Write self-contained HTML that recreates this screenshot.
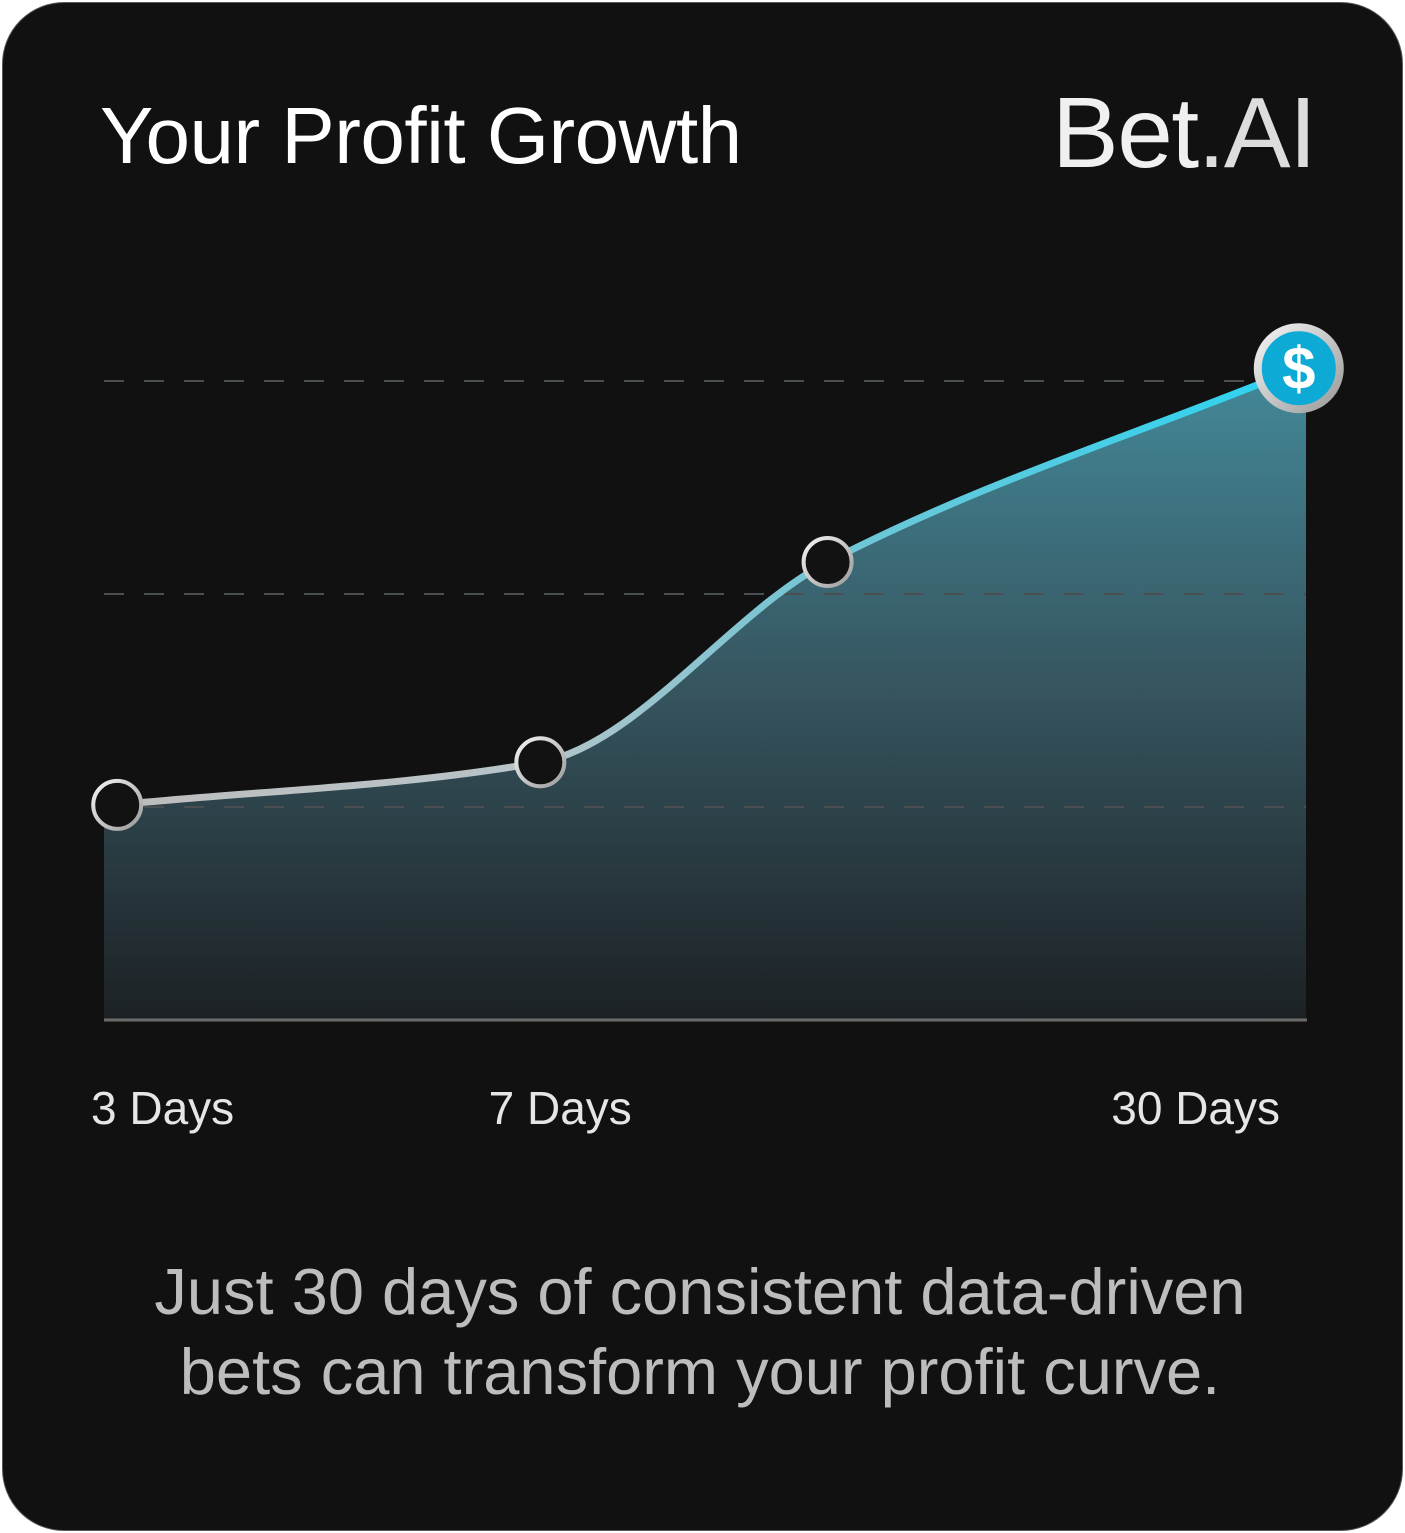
<!DOCTYPE html>
<html><head><meta charset="utf-8"><style>
html,body{margin:0;padding:0;background:#fff;}
body{width:1405px;height:1533px;position:relative;overflow:hidden;font-family:"Liberation Sans",sans-serif;}
#card{position:absolute;left:2px;top:2px;width:1399px;height:1527px;border:1px solid #5a5a5a;border-radius:62px;background:#111111;}
.t{position:absolute;white-space:nowrap;}
</style></head><body>
<div id="card"></div>
<div class="t" style="left:100px;top:90px;font-size:80px;color:#fff;letter-spacing:-0.5px;">Your Profit Growth</div>
<div class="t" style="left:1052px;top:76px;font-size:100px;letter-spacing:-1.5px;color:#f0f0f0;">Bet<span style="color:#ddd">.AI</span></div>
<svg id="chart" width="1405" height="1533" style="position:absolute;left:0;top:0">
<defs>
<linearGradient id="fillG" x1="0" y1="380" x2="0" y2="1020" gradientUnits="userSpaceOnUse">
<stop offset="0" stop-color="#438797"/><stop offset="0.5" stop-color="#35535d"/><stop offset="1" stop-color="#1c2124"/></linearGradient>
<linearGradient id="lineG" x1="104" y1="0" x2="1306" y2="0" gradientUnits="userSpaceOnUse">
<stop offset="0" stop-color="#bdbdbd"/><stop offset="0.35" stop-color="#b8c4c8"/><stop offset="0.55" stop-color="#7cc4d2"/><stop offset="1" stop-color="#29d4f2"/></linearGradient>
<linearGradient id="ringG" x1="0" y1="0" x2="1" y2="1"><stop offset="0" stop-color="#f4f4f4"/><stop offset="1" stop-color="#9a9a9a"/></linearGradient>
</defs>
<path id="area" fill="url(#fillG)"/>
<g id="grid2"></g>
<line x1="104" x2="1307" y1="1020" y2="1020" stroke="#6a6a6a" stroke-width="3"/>
<path id="line" fill="none" stroke="url(#lineG)" stroke-width="7" stroke-linecap="round"/>
<g id="pts"></g><g id="labels"></g>
</svg>
<div class="t" style="left:0;width:1400px;top:1252px;text-align:center;font-size:65px;line-height:80px;color:#bdbdbd;">Just 30 days of consistent data-driven<br>bets can transform your profit curve.</div>
<script>
const positions = [1.1, 36.3, 60.2, 99.4];
const profits = [101, 121, 215, 306];
const gridValues = [100, 200, 300];
const tickLabels = ["3 Days", "7 Days", "30 Days"];
const tickPos = [-1.08, 32.0, 83.8];
const X = v => 104 + v / 100 * 1202;
const Y = v => 1020 - v * 2.13;
const NS = "http://www.w3.org/2000/svg";
const g2 = document.getElementById('grid2');
gridValues.forEach(v => {
  const l = document.createElementNS(NS, 'line');
  
  
  l.setAttribute('x1', 104); l.setAttribute('x2', 1306);
  l.setAttribute('y1', Y(v)); l.setAttribute('y2', Y(v));
  l.setAttribute('stroke', '#4a4f52'); l.setAttribute('stroke-width', 2);
  l.setAttribute('stroke-dasharray', '20 20');
  g2.appendChild(l);
});
const P = positions.map((p, i) => [X(p), Y(profits[i])]);
const n = P.length, d = [], m = [];
for (let i = 0; i < n - 1; i++) d.push((P[i+1][1] - P[i][1]) / (P[i+1][0] - P[i][0]));
m[0] = d[0]; m[n-1] = d[n-2];
for (let i = 1; i < n - 1; i++) m[i] = d[i-1] * d[i] <= 0 ? 0 : 2 / (1/d[i-1] + 1/d[i]);
let path = `M${P[0][0]},${P[0][1]}`;
for (let i = 0; i < n - 1; i++) {
  const h = (P[i+1][0] - P[i][0]) / 3;
  path += ` C${P[i][0]+h},${P[i][1]+m[i]*h} ${P[i+1][0]-h},${P[i+1][1]-m[i+1]*h} ${P[i+1][0]},${P[i+1][1]}`;
}
document.getElementById('line').setAttribute('d', path);
document.getElementById('area').setAttribute('d', `M104,${P[0][1]} L${P[0][0]},${P[0][1]} ` + path.slice(path.indexOf('C')-1) + ` L1306,${P[n-1][1]} L1306,1020 L104,1020 Z`);
const pts = document.getElementById('pts');
P.forEach((p, i) => {
  const c = document.createElementNS(NS, 'circle');
  
  
  c.setAttribute('cx', p[0]); c.setAttribute('cy', p[1]);
  if (i === n - 1) {
    c.setAttribute('r', 41); c.setAttribute('fill', '#0eaad6');
    c.setAttribute('stroke', 'url(#ringG)'); c.setAttribute('stroke-width', 8);
    pts.appendChild(c);
    const t = document.createElementNS(NS, 'text');
    
    
    t.setAttribute('x', p[0]); t.setAttribute('y', p[1] + 21);
    t.setAttribute('text-anchor', 'middle'); t.setAttribute('font-size', 60);
    t.setAttribute('font-weight', 'bold'); t.setAttribute('fill', '#fff');
    t.setAttribute('font-family', 'Liberation Sans, sans-serif');
    t.textContent = '$';
    pts.appendChild(t);
  } else {
    c.setAttribute('r', 24); c.setAttribute('fill', '#121212');
    c.setAttribute('stroke', 'url(#ringG)'); c.setAttribute('stroke-width', 4);
    pts.appendChild(c);
  }
});
const lb = document.getElementById('labels');
tickLabels.forEach((s, i) => {
  const t = document.createElementNS(NS, 'text');
  
  
  t.setAttribute('x', X(tickPos[i])); t.setAttribute('y', 1124);
  t.setAttribute('font-size', 46); t.setAttribute('fill', '#e6e6e6');
  t.setAttribute('font-family', 'Liberation Sans, sans-serif');
  t.textContent = s;
  lb.appendChild(t);
});
</script>
</body></html>
